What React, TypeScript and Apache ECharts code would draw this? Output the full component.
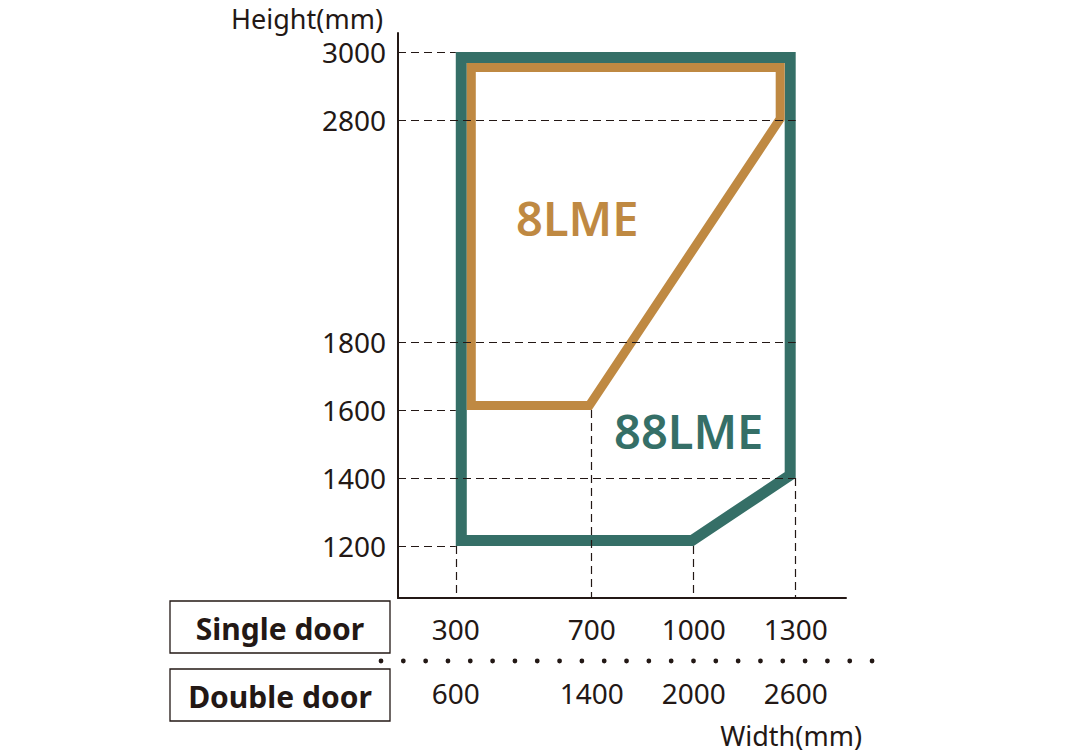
import React, { useEffect, useRef } from "react";
import * as echarts from "echarts";

// ---------- data ----------
const heightTicks = [1200, 1400, 1600, 1800, 2800, 3000];
const singleDoorWidths = [300, 700, 1000, 1300];
const doubleDoorWidths = [600, 1400, 2000, 2600];

// 88LME outline (width mm, height mm)
const model88Widths = [300, 1300, 1300, 1000, 300];
const model88Heights = [3000, 3000, 1400, 1200, 1200];
// 8LME outline
const model8Widths = [300, 1300, 1300, 700, 300];
const model8Heights = [3000, 3000, 2800, 1600, 1600];

// dashed guides
const hGuideHeights = [3000, 2800, 1800, 1600, 1400, 1200];
const hGuideWidths = [300, 1300, 1300, 300, 1300, 300];
const vGuideWidths = [300, 700, 1000, 1300];
const vGuideHeights = [1200, 1600, 1200, 1400];

// ---------- styles ----------
const INK = "#231815";
const GREEN = "#356f67";
const ORANGE = "#bf8942";
const GREEN_W = 11;
const ORANGE_W = 9;
const FONT = "'Noto Sans', 'DejaVu Sans', sans-serif";

// broken y axis: 1800..2800 compressed
const BREAK_FROM = 1800;
const BREAK_TO = 2800;
const BREAK_UNITS = 653;
const toAxisY = (v: number) =>
  v <= BREAK_FROM
    ? v
    : v >= BREAK_TO
    ? v - (BREAK_TO - BREAK_FROM) + BREAK_UNITS
    : BREAK_FROM + ((v - BREAK_FROM) * BREAK_UNITS) / (BREAK_TO - BREAK_FROM);

const X_MIN = 130;
const X_MAX = 1448;
const Y_MIN = 1047;
const Y_MAX = 2709;

function insetPolygon(pts: number[][], d: number) {
  const n = pts.length;
  let area = 0;
  for (let i = 0; i < n; i++) {
    const a = pts[i];
    const b = pts[(i + 1) % n];
    area += a[0] * b[1] - b[0] * a[1];
  }
  const sgn = area > 0 ? 1 : -1;
  const lines = pts.map((a, i) => {
    const b = pts[(i + 1) % n];
    let dx = b[0] - a[0];
    let dy = b[1] - a[1];
    const len = Math.hypot(dx, dy) || 1;
    dx /= len;
    dy /= len;
    const nx = -dy * sgn;
    const ny = dx * sgn;
    return { p: [a[0] + nx * d, a[1] + ny * d], d: [dx, dy] };
  });
  const cross = (a: number[], b: number[]) => a[0] * b[1] - a[1] * b[0];
  return lines.map((l2, i) => {
    const l1 = lines[(i - 1 + n) % n];
    const den = cross(l1.d, l2.d);
    if (Math.abs(den) < 1e-9) return l2.p;
    const s = cross([l2.p[0] - l1.p[0], l2.p[1] - l1.p[1]], l2.d) / den;
    return [l1.p[0] + s * l1.d[0], l1.p[1] + s * l1.d[1]];
  });
}

export default function App() {
  const ref = useRef<HTMLDivElement>(null);
  useEffect(() => {
    if (!ref.current) return;
    const chart = echarts.init(ref.current, null, { renderer: "svg" });

    const guideData = [
      ...hGuideHeights.map((h, i) => ({
        coords: [
          [X_MIN, toAxisY(h)],
          [hGuideWidths[i], toAxisY(h)],
        ],
      })),
      ...vGuideWidths.map((w, i) => ({
        coords: [
          [w, toAxisY(vGuideHeights[i])],
          [w, Y_MIN],
        ],
      })),
    ];

    const plain = (v: number) => String(v);

    const option: any = {
      animation: false,
      backgroundColor: "#ffffff",
      grid: { left: 398, top: 33, width: 448, height: 565, containLabel: false },
      xAxis: [
        {
          type: "value",
          min: X_MIN,
          max: X_MAX,
          position: "bottom",
          axisLine: { show: true, lineStyle: { color: INK, width: 2 } },
          axisTick: { show: false },
          splitLine: { show: false },
          axisLabel: {
            customValues: singleDoorWidths,
            margin: 17,
            color: INK,
            fontSize: 28,
            fontFamily: FONT,
            formatter: plain,
          },
        },
        {
          type: "value",
          min: X_MIN * 2,
          max: X_MAX * 2,
          position: "bottom",
          offset: 64,
          axisLine: { show: false },
          axisTick: { show: false },
          splitLine: { show: false },
          axisLabel: {
            customValues: doubleDoorWidths,
            margin: 17,
            color: INK,
            fontSize: 28,
            fontFamily: FONT,
            formatter: plain,
          },
        },
      ],
      yAxis: {
        type: "value",
        min: Y_MIN,
        max: Y_MAX,
        axisLine: { show: true, lineStyle: { color: INK, width: 2 } },
        axisTick: { show: false },
        splitLine: { show: false },
        axisLabel: {
          customValues: heightTicks.map(toAxisY),
          margin: 12,
          color: INK,
          fontSize: 28,
          fontFamily: FONT,
          formatter: (val: number) => {
            const t = heightTicks.find((h) => Math.abs(toAxisY(h) - val) < 0.5);
            return t === undefined ? "" : String(t);
          },
        },
      },
      series: [
        {
          type: "custom",
          coordinateSystem: "cartesian2d",
          xAxisIndex: 0,
          yAxisIndex: 0,
          silent: true,
          z: 2,
          data: [
            [model88Widths[0], toAxisY(model88Heights[0])],
            [model8Widths[0], toAxisY(model8Heights[0])],
          ],
          renderItem: (params: any, api: any) => {
            const toPx = (w: number, h: number) => api.coord([w, toAxisY(h)]);
            const greenPx = model88Widths.map((w, i) => toPx(w, model88Heights[i]));
            if (params.dataIndex === 0) {
              return {
                type: "polygon",
                shape: { points: insetPolygon(greenPx, GREEN_W / 2) },
                style: { fill: "none", stroke: GREEN, lineWidth: GREEN_W, lineJoin: "miter" },
              };
            }
            const xs = greenPx.map((p: number[]) => p[0]);
            const ys = greenPx.map((p: number[]) => p[1]);
            const minX = Math.min(...xs) + GREEN_W;
            const maxX = Math.max(...xs) - GREEN_W;
            const minY = Math.min(...ys) + GREEN_W;
            const orangePx = model8Widths.map((w, i) => {
              const p = toPx(w, model8Heights[i]);
              return [Math.min(Math.max(p[0], minX), maxX), Math.max(p[1], minY)];
            });
            return {
              type: "polygon",
              shape: { points: insetPolygon(orangePx, ORANGE_W / 2) },
              style: { fill: "none", stroke: ORANGE, lineWidth: ORANGE_W, lineJoin: "miter" },
            };
          },
        },
        {
          type: "lines",
          coordinateSystem: "cartesian2d",
          xAxisIndex: 0,
          yAxisIndex: 0,
          silent: true,
          z: 5,
          lineStyle: { color: INK, width: 1.2, type: [8, 5], opacity: 1 },
          data: guideData,
        },
      ],
      graphic: [
        {
          type: "text",
          x: 383,
          y: 18,
          style: { text: "Height(mm)", fill: INK, font: `400 27px ${FONT}`, align: "right", verticalAlign: "middle" },
        },
        {
          type: "text",
          x: 862,
          y: 735,
          style: { text: "Width(mm)", fill: INK, font: `400 27px ${FONT}`, align: "right", verticalAlign: "middle" },
        },
        {
          type: "text",
          x: 516,
          y: 218,
          z: 10,
          style: { text: "8LME", fill: ORANGE, font: `600 47px ${FONT}`, align: "left", verticalAlign: "middle" },
        },
        {
          type: "text",
          x: 614,
          y: 431,
          z: 10,
          style: { text: "88LME", fill: GREEN, font: `600 47px ${FONT}`, align: "left", verticalAlign: "middle" },
        },
        {
          type: "rect",
          shape: { x: 170, y: 601, width: 220, height: 52 },
          style: { fill: "none", stroke: INK, lineWidth: 1.3 },
        },
        {
          type: "rect",
          shape: { x: 170, y: 669, width: 220, height: 52 },
          style: { fill: "none", stroke: INK, lineWidth: 1.3 },
        },
        {
          type: "text",
          x: 280,
          y: 628,
          style: { text: "Single door", fill: INK, font: `700 30px ${FONT}`, align: "center", verticalAlign: "middle" },
        },
        {
          type: "text",
          x: 280,
          y: 696,
          style: { text: "Double door", fill: INK, font: `700 30px ${FONT}`, align: "center", verticalAlign: "middle" },
        },
        {
          type: "line",
          shape: { x1: 381, y1: 661, x2: 873, y2: 661 },
          style: { stroke: INK, lineWidth: 4.8, lineCap: "round", lineDash: [0.001, 22.32] },
        },
      ],
    };
    chart.setOption(option);
    return () => chart.dispose();
  }, []);

  return (
    <div
      ref={ref}
      style={{ position: "fixed", left: 0, top: 0, width: 1072, height: 752, background: "#fff" }}
    />
  );
}
